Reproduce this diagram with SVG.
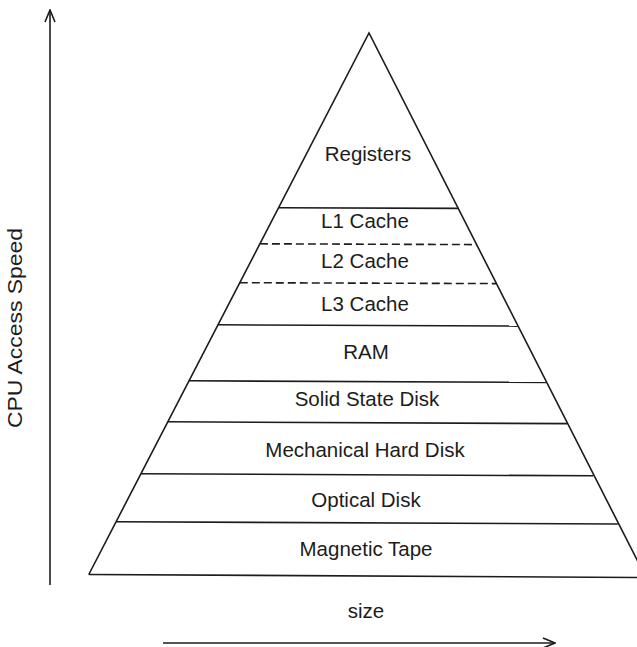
<svg xmlns="http://www.w3.org/2000/svg" width="637" height="647" viewBox="0 0 637 647">
  <defs>
    <style>
      .edge { fill: none; stroke: #1c1c1c; stroke-width: 1.6; stroke-linejoin: miter; }
      .tier { fill: none; stroke: #1c1c1c; stroke-width: 1.6; }
      .dash { fill: none; stroke: #1c1c1c; stroke-width: 1.6; stroke-dasharray: 8 4; }
      .axis { fill: none; stroke: #1c1c1c; stroke-width: 1.6; }
      .lbl { font-family: "Liberation Sans", Arial, Helvetica, sans-serif; font-size: 20.5px; fill: #1c1c1c; text-anchor: middle; }
    </style>
    <marker id="openArrow" viewBox="0 0 14 12" refX="13" refY="6" markerWidth="14" markerHeight="12" markerUnits="userSpaceOnUse" orient="auto">
      <path d="M1,1 L13,6 L1,11" fill="none" stroke="#1c1c1c" stroke-width="1.6"/>
    </marker>
  </defs>
  <rect width="637" height="647" fill="#ffffff"/>

  <!-- pyramid outline -->
  <g id="pyramid">
    <polyline class="edge" points="88.8,574.5 369,33 646,577.5"/>
    <line class="tier" x1="88.8" y1="574.5" x2="646" y2="577.5"/>
  </g>

  <!-- tier dividers -->
  <g id="dividers">
    <line class="tier" x1="278.5" y1="207.8" x2="458.1" y2="208.4"/>
    <line class="dash" x1="259.9" y1="243.8" x2="476.4" y2="244.6"/>
    <line class="dash" x1="239.8" y1="282.7" x2="496.2" y2="283.6"/>
    <line class="tier" x1="218" y1="324.8" x2="517.6" y2="326.1"/>
    <line class="tier" x1="189" y1="380.8" x2="546" y2="382.4"/>
    <line class="tier" x1="167.9" y1="421.8" x2="567" y2="423.6"/>
    <line class="tier" x1="141" y1="473.8" x2="593.5" y2="475.8"/>
    <line class="tier" x1="116.2" y1="521.8" x2="617.9" y2="524"/>
  </g>

  <!-- tier labels -->
  <g id="registers"><text class="lbl" x="368" y="161">Registers</text></g>
  <g id="l1-cache"><text class="lbl" x="365" y="228">L1 Cache</text></g>
  <g id="l2-cache"><text class="lbl" x="365" y="268">L2 Cache</text></g>
  <g id="l3-cache"><text class="lbl" x="365" y="311">L3 Cache</text></g>
  <g id="ram"><text class="lbl" x="366" y="359">RAM</text></g>
  <g id="ssd"><text class="lbl" x="367" y="406">Solid State Disk</text></g>
  <g id="hdd"><text class="lbl" x="365" y="457">Mechanical Hard Disk</text></g>
  <g id="optical"><text class="lbl" x="366" y="507">Optical Disk</text></g>
  <g id="tape"><text class="lbl" x="366" y="556">Magnetic Tape</text></g>

  <!-- axes -->
  <g id="connectors">
    <line class="axis" x1="50" y1="585" x2="50" y2="10" marker-end="url(#openArrow)"/>
    <line class="axis" x1="163" y1="643" x2="555" y2="643" marker-end="url(#openArrow)"/>
  </g>
  <g id="axis-labels">
    <text class="lbl" x="0" y="0" transform="translate(22,328) rotate(-90) scale(1.12,1)">CPU Access Speed</text>
    <text class="lbl" x="366" y="618">size</text>
  </g>
</svg>
